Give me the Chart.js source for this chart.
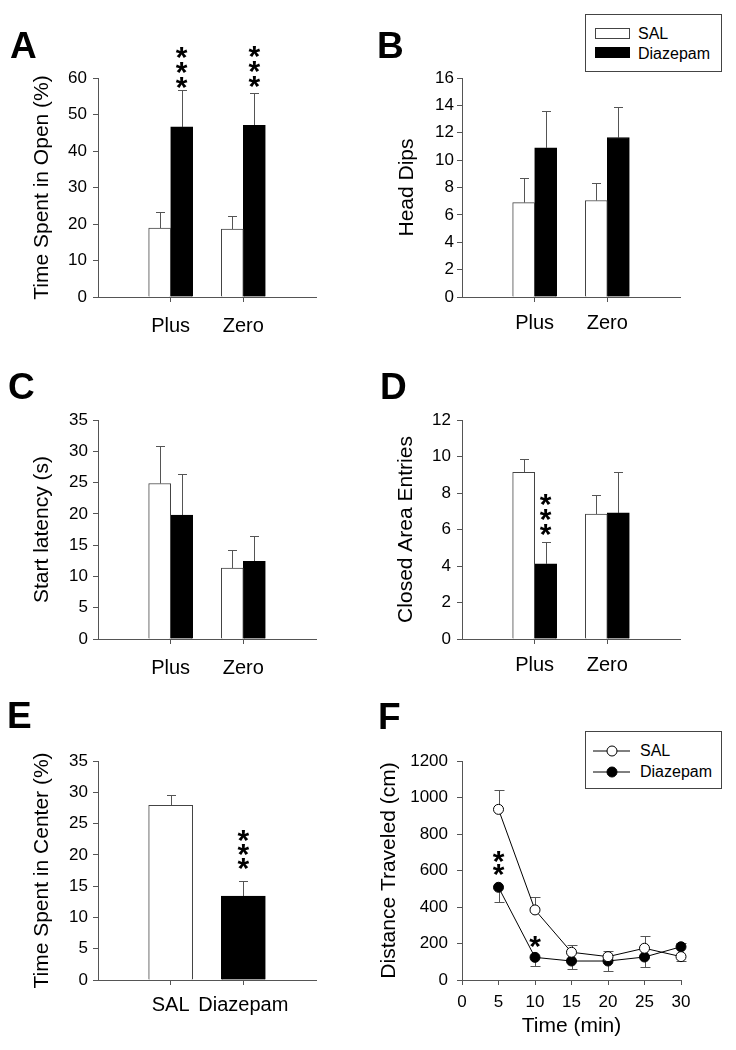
<!DOCTYPE html>
<html>
<head>
<meta charset="utf-8">
<script src="https://cdn.jsdelivr.net/npm/chart.js@4.4.1/dist/chart.umd.min.js"></script>
<style>
  body { margin: 0; background: #fff; }
  #fig { position: relative; width: 736px; height: 1050px; font-family: 'Liberation Sans', Arial, Helvetica, sans-serif; color: #000; }
  #fig canvas { position: absolute; }
  .letter { position: absolute; font-weight: bold; font-size: 37px; line-height: 1; }
  .legend { position: absolute; border: 1px solid #444; box-sizing: border-box; background: #fff; }
  .legend .txt { position: absolute; font-size: 16px; line-height: 16px; white-space: nowrap; }
  .legend .sw { position: absolute; width: 35px; height: 11px; box-sizing: border-box; border: 1px solid #444; }
  .legend svg { position: absolute; left: 0; top: 0; }
</style>
</head>
<body>
<div id="fig">
  <canvas id="cA" width="368" height="340" style="left:0;top:0;width:368px;height:340px"></canvas>
  <canvas id="cB" width="368" height="340" style="left:368px;top:0;width:368px;height:340px"></canvas>
  <canvas id="cC" width="368" height="340" style="left:0;top:340px;width:368px;height:340px"></canvas>
  <canvas id="cD" width="368" height="340" style="left:368px;top:340px;width:368px;height:340px"></canvas>
  <canvas id="cE" width="368" height="370" style="left:0;top:680px;width:368px;height:370px"></canvas>
  <canvas id="cF" width="368" height="370" style="left:368px;top:680px;width:368px;height:370px"></canvas>

  <div class="letter" style="left:10px;top:27px">A</div>
  <div class="letter" style="left:377px;top:27px">B</div>
  <div class="letter" style="left:8px;top:368px">C</div>
  <div class="letter" style="left:380px;top:368px">D</div>
  <div class="letter" style="left:7px;top:697px">E</div>
  <div class="letter" style="left:378px;top:698px">F</div>

  <div class="legend" style="left:585px;top:14px;width:137px;height:58px">
    <span class="sw" style="left:9px;top:13px;background:#fff"></span>
    <span class="sw" style="left:9px;top:32px;background:#000;border-color:#000"></span>
    <div class="txt" style="left:52px;top:11px">SAL</div>
    <div class="txt" style="left:52px;top:31px">Diazepam</div>
  </div>

  <div class="legend" style="left:585px;top:731px;width:137px;height:58px">
    <svg width="135" height="56">
      <line x1="7" y1="19" x2="44" y2="19" stroke="#000" stroke-width="1"/>
      <circle cx="26" cy="19" r="5" fill="#fff" stroke="#000" stroke-width="1"/>
      <line x1="7" y1="40" x2="44" y2="40" stroke="#000" stroke-width="1"/>
      <circle cx="26" cy="40" r="5" fill="#000" stroke="#000" stroke-width="1"/>
    </svg>
    <div class="txt" style="left:54px;top:11px">SAL</div>
    <div class="txt" style="left:54px;top:32px">Diazepam</div>
  </div>
</div>

<script>
// ---- data ----
const groups = ['Plus', 'Zero'];

// A: time spent in open (%)
const openSal = [18.9, 18.6];
const openSalErr = [4.3, 3.7];
const openDzp = [46.6, 47.0];
const openDzpErr = [10.0, 8.8];
const openTicks = [0, 10, 20, 30, 40, 50, 60];

// B: head dips
const dipsSal = [6.9, 7.05];
const dipsSalErr = [1.8, 1.25];
const dipsDzp = [10.9, 11.65];
const dipsDzpErr = [2.7, 2.2];
const dipsTicks = [0, 2, 4, 6, 8, 10, 12, 14, 16];

// C: start latency (s)
const latSal = [24.85, 11.35];
const latSalErr = [5.95, 2.9];
const latDzp = [19.8, 12.4];
const latDzpErr = [6.55, 4.0];
const latTicks = [0, 5, 10, 15, 20, 25, 30, 35];

// D: closed area entries
const closedSal = [9.13, 6.84];
const closedSalErr = [0.73, 1.04];
const closedDzp = [4.12, 6.91];
const closedDzpErr = [1.17, 2.25];
const closedTicks = [0, 2, 4, 6, 8, 10, 12];

// E: time spent in center (%)
const centerGroups = ['SAL', 'Diazepam'];
const centerVals = [27.9, 13.4];
const centerErr = [1.65, 2.45];
const centerTicks = [0, 5, 10, 15, 20, 25, 30, 35];

// F: distance traveled (cm) over time
const timeMin = [5, 10, 15, 20, 25, 30];
const distSal = [935, 384, 152, 128, 174, 128];
const distSalErr = [104, 72, 38, 33, 66, 24];
const distSalErrDir = ['up', 'up', 'up', 'up', 'up', 'down'];
const distDzp = [508, 124, 104, 104, 126, 182];
const distDzpErr = [79, 46, 45, 53, 56, 20];
const distDzpErrDir = ['down', 'down', 'down', 'down', 'down', 'up'];
const timeTicks = [0, 5, 10, 15, 20, 25, 30];
const distTicks = [0, 200, 400, 600, 800, 1000, 1200];

// ---- styling ----
const FONT = "'Liberation Sans', Arial, Helvetica, sans-serif";
Chart.defaults.font.family = FONT;
Chart.defaults.color = '#000';
const AXIS = '#555';
const EDGE = '#444';
const ERR = '#555';
const plain = v => String(v);   // no thousands separators

// error bars (one-sided, drawn under the marks)
const errorBars = {
  id: 'errorBars',
  beforeDatasetsDraw(chart, args, opts) {
    const ctx = chart.ctx;
    const ys = chart.scales.y;
    const cap = opts.cap || 9;
    chart.data.datasets.forEach((ds, i) => {
      if (!ds.errors) return;
      const meta = chart.getDatasetMeta(i);
      meta.data.forEach((el, j) => {
        const raw = ds.data[j];
        const e = ds.errors[j];
        if (raw == null || e == null) return;
        const v = typeof raw === 'object' ? raw.y : raw;
        const up = !ds.errDir || ds.errDir[j] === 'up';
        const end = ys.getPixelForValue(up ? v + e : v - e);
        const x = Math.round(el.x) + 0.5;
        const ye = Math.round(end) + 0.5;
        ctx.save();
        ctx.strokeStyle = ERR;
        ctx.lineWidth = 1;
        ctx.beginPath();
        ctx.moveTo(x, el.y);
        ctx.lineTo(x, ye);
        ctx.moveTo(x - cap / 2, ye);
        ctx.lineTo(x + cap / 2, ye);
        ctx.stroke();
        ctx.restore();
      });
    });
  }
};

// significance asterisks stacked above a mark
const stars = {
  id: 'stars',
  afterDatasetsDraw(chart, args, opts) {
    const marks = opts.marks || [];
    if (!marks.length) return;
    const ctx = chart.ctx;
    const ys = chart.scales.y;
    ctx.save();
    ctx.font = 'bold 30px ' + FONT;
    ctx.fillStyle = '#000';
    ctx.textAlign = 'center';
    ctx.textBaseline = 'alphabetic';
    const m = ctx.measureText('*');
    const shift = (m.actualBoundingBoxAscent - m.actualBoundingBoxDescent) / 2;
    marks.forEach(mk => {
      const ds = chart.data.datasets[mk.ds];
      const el = chart.getDatasetMeta(mk.ds).data[mk.idx];
      const raw = ds.data[mk.idx];
      const v = typeof raw === 'object' ? raw.y : raw;
      const e = ds.errors ? ds.errors[mk.idx] : 0;
      const up = !ds.errDir || ds.errDir[mk.idx] === 'up';
      const top = up ? ys.getPixelForValue(v + e) : el.y;
      for (let k = 0; k < mk.n; k++) {
        ctx.fillText('*', el.x, top - mk.gap - k * mk.step + shift);
      }
    });
    ctx.restore();
  }
};

Chart.register(errorBars, stars);

function yScale(g, ticks, title, titleX, pad) {
  return {
    type: 'linear',
    min: ticks[0],
    max: ticks[ticks.length - 1],
    afterBuildTicks: s => { s.ticks = ticks.map(v => ({ value: v })); },
    afterFit: s => { s.width = g.L; },
    grid: { drawOnChartArea: false, tickLength: 5, color: AXIS },
    border: { color: AXIS },
    ticks: { font: { size: 17 }, padding: pad, color: '#000', callback: plain },
    title: { display: true, text: title, color: '#000', font: { size: 21 }, padding: { top: titleX - 12.6, bottom: 0 } }
  };
}

function xCat(g, pad) {
  return {
    type: 'category',
    offset: false,
    afterFit: s => { s.height = g.H - g.B; },
    grid: {
      offset: false, drawOnChartArea: false, tickLength: 5,
      color: c => (c.tick && c.tick.label) ? AXIS : 'rgba(0,0,0,0)'
    },
    border: { color: AXIS },
    ticks: { font: { size: 20 }, padding: pad, color: '#000', autoSkip: false, maxRotation: 0 }
  };
}

function baseOptions(g) {
  return {
    responsive: false,
    animation: false,
    events: [],
    layout: { padding: { left: 0, top: g.T, right: g.W - g.R, bottom: 0 } },
    plugins: { legend: { display: false }, tooltip: { enabled: false } }
  };
}

function pairPanel(id, g, sal, salErr, dzp, dzpErr, ticks, title, titleX, yPad, xPad, marks) {
  const opts = baseOptions(g);
  opts.plugins.errorBars = { cap: 9 };
  opts.plugins.stars = { marks: marks };
  opts.scales = { x: xCat(g, xPad), y: yScale(g, ticks, title, titleX, yPad) };
  return new Chart(document.getElementById(id), {
    type: 'bar',
    data: {
      labels: ['', ...groups, ''],
      datasets: [
        { label: 'SAL', data: [null, ...sal, null], errors: [null, ...salErr, null],
          backgroundColor: '#fff', borderColor: EDGE, borderWidth: 1, barThickness: 22 },
        { label: 'Diazepam', data: [null, ...dzp, null], errors: [null, ...dzpErr, null],
          backgroundColor: '#000', borderColor: '#000', borderWidth: 1, barThickness: 22 }
      ]
    },
    options: opts
  });
}

// A
pairPanel('cA', { W: 368, H: 340, L: 98, R: 316, T: 78, B: 297 },
  openSal, openSalErr, openDzp, openDzpErr, openTicks, 'Time Spent in Open (%)', 42.5, 6, 12,
  [{ ds: 1, idx: 1, n: 3, gap: 7.5, step: 15 }, { ds: 1, idx: 2, n: 3, gap: 11.5, step: 15 }]);

// B
pairPanel('cB', { W: 368, H: 340, L: 94, R: 312, T: 78, B: 297 },
  dipsSal, dipsSalErr, dipsDzp, dipsDzpErr, dipsTicks, 'Head Dips', 39, 3, 9, []);

// C
pairPanel('cC', { W: 368, H: 340, L: 98, R: 316, T: 80, B: 299 },
  latSal, latSalErr, latDzp, latDzpErr, latTicks, 'Start latency (s)', 42.5, 5, 12, []);

// D
pairPanel('cD', { W: 368, H: 340, L: 94, R: 312, T: 80, B: 299 },
  closedSal, closedSalErr, closedDzp, closedDzpErr, closedTicks, 'Closed Area Entries', 38.5, 6, 9,
  [{ ds: 1, idx: 1, n: 3, gap: 12, step: 15 }]);

// E
(function () {
  const g = { W: 368, H: 370, L: 98, R: 316, T: 81, B: 300 };
  const opts = baseOptions(g);
  opts.plugins.errorBars = { cap: 9 };
  opts.plugins.stars = { marks: [{ ds: 0, idx: 2, n: 3, gap: 16.5, step: 14 }] };
  opts.scales = { x: xCat(g, 8), y: yScale(g, centerTicks, 'Time Spent in Center (%)', 42.5, 5) };
  new Chart(document.getElementById('cE'), {
    type: 'bar',
    data: {
      labels: ['', ...centerGroups, ''],
      datasets: [{
        data: [null, ...centerVals, null],
        errors: [null, ...centerErr, null],
        backgroundColor: ['#fff', '#fff', '#000', '#fff'],
        borderColor: [EDGE, EDGE, '#000', EDGE],
        borderWidth: 1,
        barThickness: 44
      }]
    },
    options: opts
  });
})();

// F
(function () {
  const g = { W: 368, H: 370, L: 94, R: 313, T: 81, B: 300 };
  const opts = baseOptions(g);
  opts.plugins.errorBars = { cap: 10 };
  opts.plugins.stars = { marks: [{ ds: 1, idx: 0, n: 2, gap: 17, step: 13.5 }, { ds: 1, idx: 1, n: 1, gap: 15.5, step: 0 }] };
  opts.scales = {
    x: {
      type: 'linear',
      min: timeTicks[0],
      max: timeTicks[timeTicks.length - 1],
      afterBuildTicks: s => { s.ticks = timeTicks.map(v => ({ value: v })); },
      afterFit: s => { s.height = g.H - g.B; },
      grid: { drawOnChartArea: false, tickLength: 5, color: AXIS },
      border: { color: AXIS },
      ticks: { font: { size: 17 }, padding: 7, color: '#000', maxRotation: 0, callback: plain },
      title: { display: true, text: 'Time (min)', color: '#000', font: { size: 21 }, padding: { top: 0, bottom: 10.7 } }
    },
    y: yScale(g, distTicks, 'Distance Traveled (cm)', 21.2, 9)
  };
  const line = {
    showLine: true, clip: false, borderColor: '#000', borderWidth: 1,
    pointRadius: 5, pointBorderColor: '#000', pointBorderWidth: 1
  };
  new Chart(document.getElementById('cF'), {
    type: 'scatter',
    data: {
      datasets: [
        Object.assign({ label: 'SAL', data: timeMin.map((t, i) => ({ x: t, y: distSal[i] })),
          errors: distSalErr, errDir: distSalErrDir, pointBackgroundColor: '#fff' }, line),
        Object.assign({ label: 'Diazepam', data: timeMin.map((t, i) => ({ x: t, y: distDzp[i] })),
          errors: distDzpErr, errDir: distDzpErrDir, pointBackgroundColor: '#000' }, line)
      ]
    },
    options: opts
  });
})();
</script>
</body>
</html>
